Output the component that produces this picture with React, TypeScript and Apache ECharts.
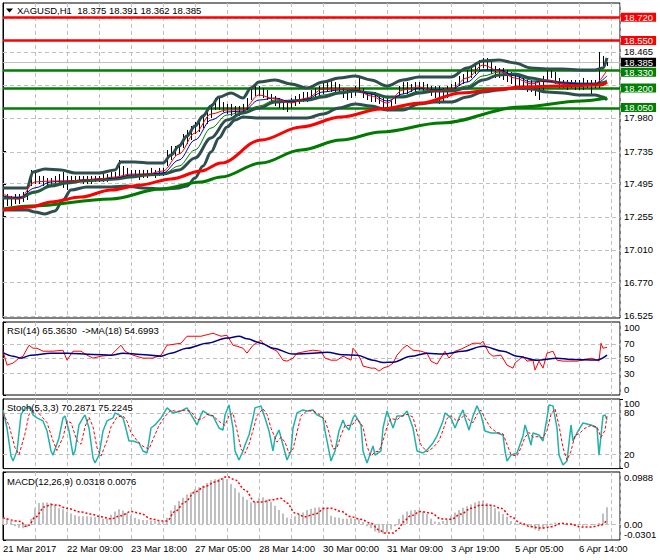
import React, { useEffect, useRef } from "react";
import * as echarts from "echarts";

const FONT = "'Liberation Sans', Arial, sans-serif";

// ---------- axis labels ----------
const timeLabels = ["21 Mar 2017", "22 Mar 09:00", "23 Mar 18:00", "27 Mar 05:00", "28 Mar 14:00", "30 Mar 00:00", "31 Mar 09:00", "3 Apr 19:00", "5 Apr 05:00", "6 Apr 14:00"];
const priceTicks = [16.525, 16.77, 17.01, 17.255, 17.495, 17.735, 17.98, 18.465];
const priceGrid = [16.525, 16.77, 17.01, 17.255, 17.495, 17.735, 17.98, 18.22, 18.465, 18.71];
const rsiTicks = [0, 30, 50, 70, 100];
const rsiLevels = [30, 50, 70];
const stochInnerTicks = [20, 80];
const stochEdgeTicks = [0, 100];
const stochLevels = [20, 80];
const macdTicks = [-0.0301, 0, 0.0988];
const macdTickLabels = ["-0.0301", "0.00", "0.0988"];

// ---------- readouts ----------
const lastBar = [18.375, 18.391, 18.362, 18.385];
const rsiReadout = [65.363, 54.6993];
const stochReadout = [70.2871, 75.2245];
const macdReadout = [0.0318, 0.0076];

// ---------- horizontal levels ----------
const redLevels = [18.72, 18.55];
const greenLevels = [18.33, 18.2, 18.05];
const bidPrice = 18.385;

// ---------- price bars (one every 2 hourly bars, bar k at index 2k) ----------
const barHigh = [
  17.480, 17.421, 17.407, 17.421, 17.421, 17.436, 17.451, 17.598, 17.583, 17.554,
  17.554, 17.539, 17.539, 17.554, 17.568, 17.583, 17.554, 17.554, 17.554, 17.554,
  17.554, 17.554, 17.554, 17.554, 17.554, 17.568, 17.568, 17.583, 17.583, 17.671,
  17.627, 17.613, 17.598, 17.598, 17.598, 17.598, 17.598, 17.613, 17.598, 17.613,
  17.613, 17.745, 17.774, 17.774, 17.789, 17.862, 17.892, 17.921, 17.951, 17.965,
  18.009, 18.039, 18.083, 18.127, 18.127, 18.097, 18.083, 18.083, 18.068, 18.068,
  18.083, 18.127, 18.200, 18.230, 18.215, 18.200, 18.186, 18.156, 18.142, 18.127,
  18.112, 18.097, 18.127, 18.142, 18.156, 18.171, 18.171, 18.186, 18.200, 18.215,
  18.244, 18.259, 18.259, 18.244, 18.230, 18.200, 18.186, 18.186, 18.215, 18.289,
  18.200, 18.171, 18.171, 18.171, 18.156, 18.127, 18.127, 18.112, 18.142, 18.215,
  18.244, 18.244, 18.230, 18.244, 18.244, 18.244, 18.230, 18.215, 18.215, 18.215,
  18.200, 18.215, 18.230, 18.244, 18.289, 18.303, 18.333, 18.362, 18.377, 18.406,
  18.421, 18.421, 18.391, 18.362, 18.347, 18.347, 18.333, 18.318, 18.303, 18.289,
  18.274, 18.259, 18.259, 18.244, 18.244, 18.289, 18.333, 18.347, 18.318, 18.274,
  18.259, 18.259, 18.259, 18.259, 18.259, 18.274, 18.259, 18.259, 18.259, 18.465,
  18.436, 18.391,
];
const barLow = [
  17.392, 17.333, 17.333, 17.348, 17.348, 17.363, 17.377, 17.480, 17.495, 17.495,
  17.480, 17.480, 17.480, 17.495, 17.495, 17.466, 17.451, 17.495, 17.510, 17.510,
  17.495, 17.495, 17.495, 17.510, 17.510, 17.510, 17.510, 17.524, 17.524, 17.554,
  17.554, 17.539, 17.539, 17.539, 17.524, 17.539, 17.539, 17.554, 17.539, 17.554,
  17.554, 17.627, 17.671, 17.701, 17.715, 17.759, 17.789, 17.818, 17.862, 17.877,
  17.906, 17.936, 17.980, 18.039, 18.039, 18.024, 18.009, 17.995, 17.995, 17.995,
  18.009, 18.039, 18.112, 18.142, 18.142, 18.127, 18.112, 18.083, 18.068, 18.053,
  18.039, 18.024, 18.053, 18.068, 18.083, 18.097, 18.097, 18.112, 18.127, 18.142,
  18.156, 18.171, 18.171, 18.171, 18.156, 18.127, 18.112, 18.127, 18.142, 18.171,
  18.127, 18.112, 18.097, 18.097, 18.083, 18.053, 18.053, 18.053, 18.083, 18.127,
  18.156, 18.156, 18.171, 18.171, 18.186, 18.171, 18.171, 18.142, 18.127, 18.083,
  18.097, 18.127, 18.171, 18.186, 18.215, 18.230, 18.244, 18.274, 18.303, 18.333,
  18.347, 18.333, 18.303, 18.274, 18.274, 18.259, 18.244, 18.230, 18.215, 18.200,
  18.186, 18.171, 18.171, 18.142, 18.112, 18.186, 18.244, 18.274, 18.230, 18.200,
  18.200, 18.186, 18.200, 18.186, 18.186, 18.186, 18.200, 18.156, 18.200, 18.200,
  18.347, 18.362,
];

// ---------- moving averages / bands (sampled every 8 bars) ----------
const maIdx = [0, 8, 16, 24, 32, 40, 48, 56, 64, 72, 80, 88, 96, 104, 112, 120, 128, 136, 144, 152, 160, 168, 176, 184, 192, 200, 208, 216, 224, 232, 240, 248, 256, 264, 272, 280, 288, 296, 302];
const thinRed = [17.421, 17.385, 17.510, 17.517, 17.517, 17.524, 17.532, 17.546, 17.568, 17.568, 17.590, 17.715, 17.870, 18.009, 18.039, 18.039, 18.149, 18.120, 18.090, 18.127, 18.193, 18.193, 18.193, 18.142, 18.090, 18.186, 18.208, 18.178, 18.193, 18.274, 18.369, 18.325, 18.274, 18.230, 18.259, 18.230, 18.222, 18.230, 18.333];
const thinBlue = [17.407, 17.392, 17.466, 17.510, 17.517, 17.524, 17.532, 17.539, 17.561, 17.568, 17.576, 17.671, 17.818, 17.965, 18.024, 18.031, 18.112, 18.127, 18.097, 18.120, 18.171, 18.186, 18.186, 18.156, 18.105, 18.156, 18.200, 18.186, 18.193, 18.244, 18.333, 18.333, 18.289, 18.244, 18.252, 18.237, 18.230, 18.230, 18.289];
const thinGreen = [17.399, 17.392, 17.429, 17.495, 17.510, 17.517, 17.524, 17.532, 17.554, 17.561, 17.568, 17.627, 17.745, 17.906, 18.002, 18.024, 18.068, 18.112, 18.105, 18.112, 18.149, 18.171, 18.178, 18.164, 18.127, 18.142, 18.178, 18.186, 18.186, 18.215, 18.289, 18.318, 18.296, 18.259, 18.252, 18.237, 18.230, 18.230, 18.259];
const bbMid = [17.392, 17.392, 17.436, 17.480, 17.502, 17.517, 17.524, 17.532, 17.546, 17.561, 17.568, 17.598, 17.686, 17.833, 17.965, 18.017, 18.053, 18.097, 18.105, 18.112, 18.134, 18.164, 18.178, 18.164, 18.134, 18.134, 18.164, 18.178, 18.178, 18.200, 18.259, 18.296, 18.303, 18.274, 18.252, 18.237, 18.230, 18.230, 18.244];

const bbUpper: [number, number][] = [
  [0, 17.466], [12, 17.466], [15, 17.583], [21, 17.605], [29, 17.598], [36, 17.576], [48, 17.576], [56, 17.598], [59, 17.657], [66, 17.657],
  [74, 17.649], [80, 17.649], [84, 17.708], [88, 17.774], [92, 17.848], [96, 17.921], [100, 17.995], [104, 18.068], [108, 18.134], [114, 18.164],
  [120, 18.127], [124, 18.2], [128, 18.244], [136, 18.259], [144, 18.23], [152, 18.2], [160, 18.244], [168, 18.274], [176, 18.289], [184, 18.259],
  [192, 18.215], [200, 18.259], [208, 18.281], [216, 18.281], [224, 18.281], [232, 18.347], [240, 18.399], [248, 18.406], [256, 18.384], [264, 18.347],
  [272, 18.34], [280, 18.34], [288, 18.333], [296, 18.333], [300, 18.347], [302, 18.421],
];
const bbLower: [number, number][] = [
  [0, 17.304], [12, 17.304], [16, 17.289], [21, 17.275], [26, 17.297], [30, 17.377], [34, 17.451], [42, 17.473], [54, 17.473], [62, 17.48],
  [70, 17.466], [80, 17.458], [88, 17.466], [92, 17.48], [96, 17.539], [100, 17.627], [104, 17.73], [108, 17.833], [112, 17.914], [116, 17.965],
  [120, 17.987], [128, 17.98], [136, 17.98], [144, 17.98], [152, 17.98], [160, 18.009], [168, 18.053], [176, 18.083], [184, 18.068], [192, 18.039],
  [200, 18.039], [208, 18.083], [216, 18.097], [224, 18.097], [232, 18.134], [240, 18.171], [248, 18.186], [256, 18.2], [264, 18.193], [272, 18.171],
  [280, 18.164], [288, 18.149], [296, 18.149], [300, 18.134], [302, 18.112],
];
const maRedSlow: [number, number][] = [
  [0, 17.304], [14, 17.326], [24, 17.363], [39, 17.399], [54, 17.451], [69, 17.488], [84, 17.532], [99, 17.59], [109, 17.649], [129, 17.818],
  [149, 17.914], [169, 17.987], [189, 18.046], [209, 18.09], [229, 18.164], [249, 18.193], [259, 18.208], [279, 18.215], [299, 18.222], [302, 18.244],
];
const maGreenSlow: [number, number][] = [
  [0, 17.311], [14, 17.333], [54, 17.385], [79, 17.458], [99, 17.51], [109, 17.546], [129, 17.649], [149, 17.745], [169, 17.818], [189, 17.877],
  [219, 17.943], [259, 18.061], [289, 18.105], [302, 18.127],
];

// ---------- RSI ----------
const rsiLine: [number, number][] = [
  [0, 60.0], [2, 40.9], [5, 43.7], [8, 50.5], [10, 53.2], [13, 68.2], [15, 64.1], [17, 64.1], [20, 60.0], [25, 60.0],
  [30, 61.4], [32, 47.7], [35, 60.0], [39, 60.0], [42, 54.6], [45, 50.5], [49, 53.2], [54, 54.6], [56, 60.0], [59, 68.2],
  [61, 60.0], [65, 54.6], [70, 50.5], [75, 50.5], [79, 54.6], [82, 68.2], [89, 70.9], [92, 80.5], [99, 80.5], [105, 84.6],
  [109, 80.5], [112, 81.9], [115, 68.2], [117, 66.8], [120, 64.1], [122, 57.3], [125, 68.2], [129, 75.0], [130, 70.9], [134, 64.1],
  [137, 60.0], [140, 47.7], [142, 46.4], [145, 50.5], [147, 57.3], [152, 60.0], [155, 61.4], [159, 60.0], [161, 50.5], [164, 47.7],
  [167, 47.7], [170, 53.2], [174, 47.7], [175, 64.1], [177, 57.3], [179, 47.7], [180, 39.6], [184, 36.8], [186, 36.8], [188, 32.7],
  [190, 36.8], [193, 39.6], [195, 43.7], [197, 54.6], [200, 64.1], [202, 68.2], [205, 61.4], [209, 60.0], [212, 57.3], [214, 46.4],
  [217, 42.3], [221, 60.0], [223, 50.5], [226, 60.0], [229, 62.8], [232, 66.8], [235, 70.9], [239, 70.9], [240, 73.7], [243, 57.3],
  [245, 53.2], [249, 54.6], [252, 40.9], [255, 36.8], [256, 43.7], [260, 53.2], [262, 46.4], [265, 47.7], [266, 34.1], [268, 46.4],
  [270, 36.8], [272, 57.3], [275, 60.0], [277, 47.7], [280, 46.4], [284, 46.4], [287, 46.4], [290, 47.7], [294, 50.5], [297, 47.7],
  [298, 46.4], [299, 70.9], [300, 64.1], [302, 65.4],
];
const rsiMa: [number, number][] = [
  [0, 58], [5, 53.2], [9, 50.5], [14, 54.6], [24, 57.3], [32, 57.3], [45, 55.5], [54, 54.6], [60, 57.3], [69, 55.5],
  [79, 53.2], [84, 57.3], [92, 64.1], [102, 71], [112, 78], [118, 80.5], [122, 77], [129, 70.9], [135, 64.1], [145, 56],
  [155, 57.3], [162, 58.5], [170, 55], [177, 54.6], [185, 47.7], [190, 44.5], [195, 45], [204, 53], [212, 57.3], [220, 56],
  [230, 60], [240, 66.8], [250, 60], [257, 53.2], [267, 47.7], [277, 50.5], [284, 48.5], [297, 48], [302, 54.7],
];

// ---------- Stochastic ----------
const stochMain: [number, number][] = [
  [0, 84.3], [2, 58.3], [4, 18.1], [5, 10.9], [7, 25.3], [9, 77.1], [11, 87.2], [14, 87.2], [15, 77.1], [17, 72.8],
  [20, 68.5], [22, 54.1], [24, 25.3], [25, 19.4], [28, 44.0], [30, 72.8], [31, 75.7], [33, 54.1], [35, 19.4], [36, 25.3],
  [38, 62.7], [40, 72.8], [41, 77.1], [43, 58.3], [45, 15.2], [46, 8.1], [48, 19.4], [50, 54.1], [52, 68.5], [55, 72.8],
  [56, 80.0], [58, 77.1], [60, 72.8], [61, 62.7], [63, 39.7], [65, 39.7], [68, 36.8], [70, 25.3], [72, 22.4], [74, 58.3],
  [76, 62.7], [79, 72.8], [82, 87.2], [85, 80.0], [89, 82.9], [92, 87.2], [95, 72.8], [97, 62.7], [99, 77.1], [100, 82.9],
  [103, 77.1], [105, 75.7], [108, 58.3], [110, 55.4], [111, 77.1], [113, 91.5], [115, 58.3], [116, 25.3], [118, 12.4], [120, 25.3],
  [121, 33.9], [123, 48.3], [125, 72.8], [126, 87.2], [129, 90.1], [131, 72.8], [133, 54.1], [135, 25.3], [136, 44.0], [138, 55.4],
  [140, 33.9], [142, 12.4], [144, 25.3], [145, 58.3], [147, 80.0], [150, 84.3], [152, 82.9], [155, 84.3], [157, 77.1], [160, 72.8],
  [161, 54.1], [164, 10.9], [166, 25.3], [168, 54.1], [170, 69.9], [171, 62.7], [173, 55.4], [175, 72.8], [176, 77.1], [179, 62.7],
  [180, 25.3], [182, 8.1], [185, 32.5], [186, 19.4], [189, 25.3], [190, 58.3], [192, 82.9], [195, 58.3], [197, 75.7], [200, 75.7],
  [202, 82.9], [205, 58.3], [207, 25.3], [210, 22.4], [212, 26.8], [215, 36.8], [217, 46.9], [220, 68.5], [221, 80.0], [224, 72.8],
  [226, 58.3], [228, 72.8], [230, 84.3], [231, 72.8], [233, 55.4], [235, 75.7], [237, 90.1], [239, 77.1], [241, 54.1], [244, 51.2],
  [247, 51.2], [250, 48.3], [251, 25.3], [252, 10.9], [254, 19.4], [257, 22.4], [260, 46.9], [261, 62.7], [262, 54.1], [264, 33.9],
  [265, 51.2], [268, 48.3], [270, 39.7], [272, 72.8], [273, 91.5], [275, 90.1], [277, 58.3], [278, 19.4], [280, 5.2], [282, 10.9],
  [284, 62.7], [285, 39.7], [287, 51.2], [290, 65.6], [294, 62.7], [297, 58.3], [298, 19.4], [300, 75.7], [301, 77.1], [302, 70.3],
];
const stochSignal: [number, number][] = [
  [0, 80], [3, 62], [6, 30], [8, 20], [11, 50], [13, 78], [16, 85], [19, 76], [22, 66], [25, 40],
  [27, 26], [30, 45], [32, 68], [34, 66], [37, 40], [39, 35], [41, 60], [43, 74], [45, 60], [47, 30],
  [49, 18], [52, 40], [54, 60], [57, 74], [60, 76], [62, 68], [64, 52], [67, 40], [70, 32], [73, 28],
  [75, 42], [78, 62], [81, 75], [84, 84], [87, 82], [91, 84], [94, 82], [97, 70], [100, 72], [102, 78],
  [105, 76], [108, 68], [111, 62], [113, 76], [115, 80], [117, 55], [119, 28], [121, 22], [123, 35], [125, 55],
  [127, 76], [130, 86], [132, 78], [134, 58], [137, 38], [139, 45], [141, 38], [143, 22], [145, 28], [147, 52],
  [149, 76], [152, 83], [155, 83], [158, 78], [161, 70], [163, 52], [165, 28], [167, 30], [169, 48], [171, 62],
  [173, 62], [175, 64], [177, 72], [180, 60], [182, 32], [184, 18], [186, 24], [188, 25], [190, 40], [192, 60],
  [194, 72], [197, 70], [199, 75], [202, 78], [205, 74], [207, 52], [209, 34], [212, 24], [215, 30], [218, 40],
  [220, 55], [222, 72], [224, 76], [227, 68], [229, 72], [231, 78], [233, 70], [235, 66], [237, 78], [239, 84],
  [241, 72], [244, 58], [247, 52], [250, 50], [252, 35], [254, 20], [257, 18], [259, 30], [261, 45], [263, 52],
  [265, 45], [267, 46], [270, 44], [272, 55], [274, 78], [276, 86], [278, 62], [280, 30], [282, 12], [284, 25],
  [286, 48], [288, 50], [291, 58], [294, 62], [297, 60], [299, 45], [301, 55], [302, 75.2],
];

// ---------- MACD (histogram one every 2 bars, bar k at index 2k) ----------
const macdHist = [
  0.012, 0.010, 0.006, -0.004, -0.007, -0.008, -0.006, 0.010, 0.030, 0.040,
  0.041, 0.041, 0.040, 0.036, 0.030, 0.028, 0.024, 0.020, 0.017, 0.015,
  0.015, 0.015, 0.014, 0.013, 0.012, 0.010, 0.010, 0.018, 0.024, 0.028,
  0.026, 0.021, 0.017, 0.012, 0.009, 0.008, 0.008, 0.007, 0.006, 0.005,
  0.004, 0.012, 0.026, 0.036, 0.044, 0.050, 0.056, 0.060, 0.066, 0.070,
  0.073, 0.078, 0.083, 0.085, 0.086, 0.087, 0.085, 0.076, 0.068, 0.060,
  0.052, 0.046, 0.041, 0.042, 0.050, 0.051, 0.046, 0.042, 0.035, 0.027,
  0.020, 0.012, 0.010, 0.015, 0.019, 0.022, 0.027, 0.029, 0.031, 0.032,
  0.033, 0.030, 0.016, 0.013, 0.012, 0.010, 0.010, 0.011, 0.010, 0.009,
  0.004, -0.004, -0.008, -0.014, -0.017, -0.018, -0.016, -0.010, -0.004, 0.010,
  0.018, 0.024, 0.026, 0.027, 0.027, 0.024, 0.019, 0.010, 0.005, 0.004,
  0.006, 0.008, 0.016, 0.022, 0.027, 0.031, 0.034, 0.037, 0.041, 0.044,
  0.045, 0.040, 0.035, 0.030, 0.024, 0.019, 0.014, 0.006, 0.002, -0.001,
  -0.002, -0.003, -0.006, -0.010, -0.013, -0.009, -0.003, 0.001, 0.003, 0.002,
  0.001, -0.002, -0.002, -0.003, -0.002, -0.003, -0.002, -0.002, -0.001, 0.002,
  0.020, 0.032,
];
const macdSignal: [number, number][] = [
  [0, 0.012], [9, 0.005], [11, -0.004], [13, -0.002], [16, 0.013], [21, 0.033], [24, 0.037], [27, 0.036], [32, 0.030], [39, 0.023],
  [44, 0.019], [49, 0.014], [54, 0.010], [59, 0.016], [64, 0.024], [69, 0.020], [74, 0.010], [79, 0.006], [82, 0.006], [86, 0.024],
  [91, 0.042], [96, 0.061], [101, 0.071], [106, 0.080], [112, 0.090], [116, 0.084], [121, 0.065], [126, 0.042], [130, 0.042], [134, 0.046],
  [139, 0.049], [142, 0.040], [146, 0.021], [151, 0.014], [156, 0.019], [161, 0.030], [164, 0.030], [169, 0.024], [174, 0.014], [179, 0.009],
  [184, 0.0015], [188, -0.011], [191, -0.017], [195, -0.017], [198, -0.008], [200, 0.004], [204, 0.016], [209, 0.024], [214, 0.021], [219, 0.010],
  [224, 0.009], [229, 0.019], [234, 0.030], [239, 0.036], [244, 0.036], [249, 0.030], [254, 0.014], [259, 0.0015], [264, -0.005], [269, -0.0075],
  [274, -0.005], [279, 0.0015], [284, 0.0], [289, -0.0055], [294, -0.0055], [299, -0.002], [302, 0.0076],
];

// ---------- option ----------
function buildOption() {
  const txt = { fontFamily: FONT, fontSize: 9.5, color: "#000" };
  const X_MAX = 308.5;
  const mkX = (gi: number, labels: boolean) => ({
    type: "value",
    gridIndex: gi,
    min: 0,
    max: X_MAX,
    interval: 16,
    axisLine: { show: false },
    axisTick: { show: false },
    splitLine: { show: true, lineStyle: { color: "#C0C0C0", type: [4, 3], width: 1 } },
    axisLabel: labels
      ? {
          ...txt,
          align: "left",
          margin: 3,
          showMaxLabel: false,
          hideOverlap: false,
          formatter: (v: number) => (v % 32 === 0 && v / 32 < timeLabels.length ? timeLabels[v / 32] : ""),
        }
      : { show: false },
  });
  const mkRich = (shift: number) => ({
    dn: { ...txt, lineHeight: 10, padding: [shift, 0, 0, 0] },
    up: { ...txt, lineHeight: 10, padding: [0, 0, shift, 0] },
  });
  const mkY = (gi: number, min: number, max: number, ticks: number[], fmt: (v: number) => string, line = true, shift = 11) => ({
    type: "value",
    gridIndex: gi,
    position: "right",
    offset: 0,
    min,
    max,
    splitLine: { show: false },
    axisLine: { show: line, lineStyle: { color: "#000", width: 1 } },
    axisTick: { show: true, customValues: ticks, length: 3, lineStyle: { color: "#000" } },
    axisLabel: { ...txt, lineHeight: 10, customValues: ticks, margin: 4, formatter: fmt, rich: mkRich(shift), hideOverlap: false },
  });
  const edgeFmt = (max: number, min: number, f: (v: number) => string) => (v: number) =>
    Math.abs(v - max) < 1e-9 ? `{dn|${f(v)}}` : Math.abs(v - min) < 1e-9 ? `{up|${f(v)}}` : f(v);
  const intFmt = (v: number) => String(Math.round(v));

  const lineS = (name: string, data: any[], color: string, width: number, gi: number, extra: any = {}) => ({
    name,
    type: "line",
    xAxisIndex: gi,
    yAxisIndex: gi,
    data,
    showSymbol: false,
    symbol: "none",
    lineStyle: { color, width },
    itemStyle: { color },
    silent: true,
    ...extra,
  });
  const smooth = { smooth: 0.35, smoothMonotone: "x" };
  const pair = (vals: number[]) => maIdx.map((i, j) => [i, vals[j]]);
  const levelLines = (values: number[], color: string) => ({
    silent: true,
    symbol: ["none", "none"],
    z: 1,
    label: { show: false },
    lineStyle: { color, type: [4, 3], width: 1 },
    data: values.map((v) => ({ yAxis: v })),
  });

  const boxLabel = (v: number, bg: string, dy = 0) => ({
    show: true,
    position: "end",
    distance: 1,
    formatter: () => v.toFixed(3),
    backgroundColor: bg,
    color: "#fff",
    padding: [0, 3, 0, 3],
    lineHeight: 9,
    offset: [0, dy],
    fontFamily: FONT,
    fontSize: 9.5,
  });
  const levelMark = {
    silent: true,
    symbol: ["none", "none"],
    z: 3,
    data: [
      { yAxis: bidPrice, lineStyle: { color: "#C0C0C0", width: 1, type: "solid" }, label: boxLabel(bidPrice, "#000", 0) },
      ...redLevels.map((v) => ({ yAxis: v, lineStyle: { color: "#FF0000", width: 2.5, type: "solid" }, label: boxLabel(v, "#FF0000") })),
      ...greenLevels.map((v, i) => ({
        yAxis: v,
        lineStyle: { color: "#008000", width: 2.5, type: "solid" },
        label: boxLabel(v, "#008000", i === 0 ? 2 : i === 2 ? -1 : 0),
      })),
    ],
  };

  const bars = {
    type: "custom",
    xAxisIndex: 0,
    yAxisIndex: 0,
    silent: true,
    data: barHigh.map((h, k) => [2 * k, barLow[k], h]),
    renderItem: (_p: any, api: any) => {
      const a = api.coord([api.value(0), api.value(1)]);
      const b = api.coord([api.value(0), api.value(2)]);
      const x = Math.round(a[0]) + 0.5;
      return { type: "line", shape: { x1: x, y1: a[1], x2: x, y2: b[1] }, style: { stroke: "#000", lineWidth: 1 } };
    },
    z: 3,
  };
  const hist = {
    type: "custom",
    xAxisIndex: 3,
    yAxisIndex: 3,
    silent: true,
    data: macdHist.map((v, k) => [2 * k, v]),
    renderItem: (_p: any, api: any) => {
      const a = api.coord([api.value(0), 0]);
      const b = api.coord([api.value(0), api.value(1)]);
      const x = Math.round(a[0]);
      return {
        type: "rect",
        shape: { x: x - 1, y: Math.min(a[1], b[1]), width: 2, height: Math.abs(b[1] - a[1]) },
        style: { fill: "#C0C0C0" },
      };
    },
  };

  const titleStyle = { fontFamily: FONT, fontSize: 9.5, fontWeight: "normal", color: "#000" };

  return {
    animation: false,
    backgroundColor: "#fff",
    textStyle: { fontFamily: FONT },
    title: [
      { text: `XAGUSD,H1  ${lastBar.map((v) => v.toFixed(3)).join(" ")}`, left: 17, top: 5, textStyle: titleStyle, padding: 0 },
      { text: `RSI(14) ${rsiReadout[0].toFixed(4)}  ->MA(18) ${rsiReadout[1].toFixed(4)}`, left: 7, top: 325, textStyle: titleStyle, padding: 0 },
      { text: `Stoch(5,3,3) ${stochReadout[0].toFixed(4)} ${stochReadout[1].toFixed(4)}`, left: 7, top: 402, textStyle: titleStyle, padding: 0 },
      { text: `MACD(12,26,9) ${macdReadout[0].toFixed(4)} ${macdReadout[1].toFixed(4)}`, left: 7, top: 476, textStyle: titleStyle, padding: 0 },
    ],
    graphic: [
      { type: "polygon", shape: { points: [[6, 8.5], [13, 8.5], [9.5, 12.5]] }, style: { fill: "#000" }, silent: true },
    ],
    grid: [
      { left: 3, top: 3, width: 617, height: 315, show: true, borderColor: "#000", borderWidth: 1, backgroundColor: "transparent" },
      { left: 3, top: 322, width: 617, height: 73, show: true, borderColor: "#000", borderWidth: 1, backgroundColor: "transparent" },
      { left: 3, top: 399, width: 617, height: 69.6, show: true, borderColor: "#000", borderWidth: 1, backgroundColor: "transparent" },
      { left: 3, top: 472, width: 617, height: 68, show: true, borderColor: "#000", borderWidth: 1, backgroundColor: "transparent" },
    ],
    xAxis: [mkX(0, false), mkX(1, false), mkX(2, false), mkX(3, true)],
    yAxis: [
      mkY(0, 16.51, 18.825, priceTicks, (v: number) => v.toFixed(3)),
      mkY(1, 0, 100, rsiTicks, edgeFmt(100, 0, intFmt)),
      mkY(2, 0, 100, stochInnerTicks, intFmt),
      mkY(3, -0.0301, 0.0988, macdTicks, edgeFmt(0.0988, -0.0301, (v) => macdTickLabels[macdTicks.findIndex((t) => Math.abs(t - v) < 1e-9)] ?? "")),
      mkY(2, 0, 100, stochEdgeTicks, edgeFmt(100, 0, intFmt), false, 8),
    ],
    series: [
      lineS("BB upper", bbUpper, "#2F4F4F", 3, 0, { ...smooth, markLine: levelLines(priceGrid, "#C0C0C0") }),
      lineS("BB middle", pair(bbMid), "#2F4F4F", 3, 0, smooth),
      lineS("BB lower", bbLower, "#2F4F4F", 3, 0, smooth),
      lineS("MA slow green", maGreenSlow, "#007A00", 3, 0, { ...smooth, clip: false, markLine: levelMark }),
      lineS("MA slow red", maRedSlow, "#FF0000", 3, 0, smooth),
      bars,
      lineS("MA green", pair(thinGreen), "#008000", 1, 0, smooth),
      lineS("MA blue", pair(thinBlue), "#0000CD", 1, 0, smooth),
      lineS("MA red", pair(thinRed), "#FF0000", 1, 0, smooth),
      lineS("RSI", rsiLine, "#FF0000", 1, 1, { markLine: levelLines(rsiLevels, "#C0C0C0") }),
      lineS("RSI MA", rsiMa, "#000080", 1.5, 1, smooth),
      lineS("Stoch", stochMain, "#20B2AA", 1.5, 2, { markLine: levelLines(stochLevels, "#C0C0C0") }),
      lineS("Stoch signal", stochSignal, "#FF0000", 1, 2, { lineStyle: { color: "#FF0000", width: 1, type: [3, 2] } }),
      { ...hist },
      lineS("MACD signal", macdSignal, "#FF0000", 1.5, 3, {
        ...smooth,
        lineStyle: { color: "#FF0000", width: 1.5, type: [2, 2] },
        markLine: levelLines([0], "#C0C0C0"),
      }),
    ],
  };
}

export default function App() {
  const ref = useRef<HTMLDivElement>(null);
  useEffect(() => {
    if (!ref.current) return;
    const chart = echarts.init(ref.current, null, { renderer: "svg" });
    chart.setOption(buildOption() as any);
    return () => chart.dispose();
  }, []);
  return (
    <div
      ref={ref}
      style={{ position: "fixed", left: 0, top: 0, width: 660, height: 560, background: "#fff" }}
    />
  );
}
